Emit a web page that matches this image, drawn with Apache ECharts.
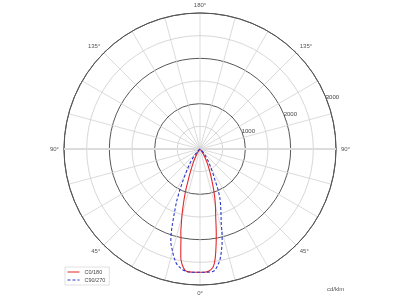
<!DOCTYPE html>
<html>
<head>
<meta charset="utf-8">
<script src="https://cdn.jsdelivr.net/npm/echarts@6/dist/echarts.min.js"></script>
<style>html,body{margin:0;padding:0;background:#fff}#c{width:400px;height:300px}</style>
</head>
<body>
<div id="c"></div>
<script>
// gamma angles (degrees from nadir)
var gammaAngles = [0,2,4,6,7,8,9,10,11,12,13,14,15,16,17,18,19,20,22,24,26,28,30,32,35,38,40,45,50,60,70,80,90];
// C0/180 plane (red), cd/klm
var c0Values   = [2720,2720,2705,2640,2560,2420,2240,2060,1880,1700,1540,1420,1320,1215,1110,1000,900,800,640,510,400,300,230,170,100,60,40,15,5,2,0,0,0];
var c180Values = [2720,2722,2722,2715,2695,2640,2560,2440,2220,2020,1880,1700,1550,1390,1240,1100,970,820,610,460,340,250,180,130,80,45,30,10,4,1,0,0,0];
// C90/270 plane (blue dashed)
var c90Values  = [2720,2722,2722,2715,2695,2640,2570,2500,2400,2280,2160,2020,1860,1700,1590,1500,1410,1330,1170,970,740,600,490,400,296,200,150,60,20,5,1,0,0];
var c270Values = [2720,2722,2724,2724,2710,2694,2670,2640,2607,2560,2490,2420,2340,2260,2190,2080,1940,1790,1500,1270,1030,810,660,530,390,270,200,80,30,8,2,0,0];
var seriesNames = ['C0/180', 'C90/270'];
var radiusTicks = [1000, 2000, 3000];
var unitLabel = 'cd/klm';

function planeData(leftVals, rightVals) {
  var d = [];
  for (var i = gammaAngles.length - 1; i >= 0; i--) d.push([leftVals[i], gammaAngles[i]]);
  for (var j = 0; j < gammaAngles.length; j++) d.push([rightVals[j], 360 - gammaAngles[j]]);
  return d;
}

var FONT = 'Liberation Sans';
var chart = echarts.init(document.getElementById('c'));
chart.setOption({
  animation: false,
  backgroundColor: '#fff',
  title: {
    text: unitLabel, left: 322, top: 281,
    textStyle: {fontSize: 6, fontWeight: 'normal', color: '#555', fontFamily: FONT}
  },
  legend: {
    left: 65, top: 267, orient: 'vertical',
    itemWidth: 12, itemHeight: 4, itemGap: 2,
    padding: [2, 4, 2, 2],
    borderColor: '#ccc', borderWidth: 0.6,
    lineStyle: {width: 1},
    itemStyle: {opacity: 0},
    textStyle: {fontSize: 5.5, color: '#444', fontFamily: FONT},
    data: seriesNames
  },
  polar: [
    {center: [200, 149], radius: 136},
    {center: [200, 149], radius: 136}
  ],
  angleAxis: [
    {
      polarIndex: 0, type: 'value', min: 0, max: 360, interval: 15,
      startAngle: 270, clockwise: true,
      axisLine: {lineStyle: {color: '#555', width: 1}},
      axisTick: {show: false},
      splitLine: {lineStyle: {color: '#d2d2d2', width: 0.8}},
      axisLabel: {
        fontSize: 6, color: '#555', margin: 5, fontFamily: FONT,
        formatter: function (v) {
          if (v % 45 !== 0 || v === 360) return '';
          return (v <= 180 ? v : 360 - v) + '°';
        }
      }
    },
    {
      polarIndex: 1, type: 'value', min: 0, max: 360, startAngle: 22,
      axisLine: {show: false}, axisTick: {show: false}, splitLine: {show: false},
      axisLabel: {show: false}
    }
  ],
  radiusAxis: [
    {
      polarIndex: 0, type: 'value', min: 0, max: 3000, interval: 500,
      axisLine: {show: false}, axisTick: {show: false}, axisLabel: {show: false},
      splitLine: {lineStyle: {color: ['#444', '#d2d2d2'], width: 0.9}}
    },
    {
      polarIndex: 1, type: 'value', min: 0, max: 3000, interval: 1000,
      axisLine: {show: false}, axisTick: {show: false}, splitLine: {show: false},
      axisLabel: {
        fontSize: 6, color: '#444', margin: 1, fontFamily: FONT, align: 'left',
        formatter: function (v) { return radiusTicks.indexOf(v) >= 0 ? String(v) : ''; }
      }
    }
  ],
  series: [
    {
      type: 'line', coordinateSystem: 'polar', polarIndex: 0, silent: true,
      symbol: 'none', z: 1,
      lineStyle: {color: '#dcdcdc', width: 2},
      data: [[3000, 90], [0, 0], [3000, 270]]
    },
    {
      name: seriesNames[0], type: 'line', coordinateSystem: 'polar', polarIndex: 0,
      symbol: 'none', smooth: 0.3,
      lineStyle: {color: '#e3262b', width: 1.1},
      itemStyle: {color: '#e3262b'},
      data: planeData(c180Values, c0Values)
    },
    {
      name: seriesNames[1], type: 'line', coordinateSystem: 'polar', polarIndex: 0,
      symbol: 'none', smooth: 0.3,
      lineStyle: {color: '#2a36c9', width: 1.1, type: [3, 2]},
      itemStyle: {color: '#2a36c9'},
      data: planeData(c270Values, c90Values)
    }
  ]
});
</script>
</body>
</html>
